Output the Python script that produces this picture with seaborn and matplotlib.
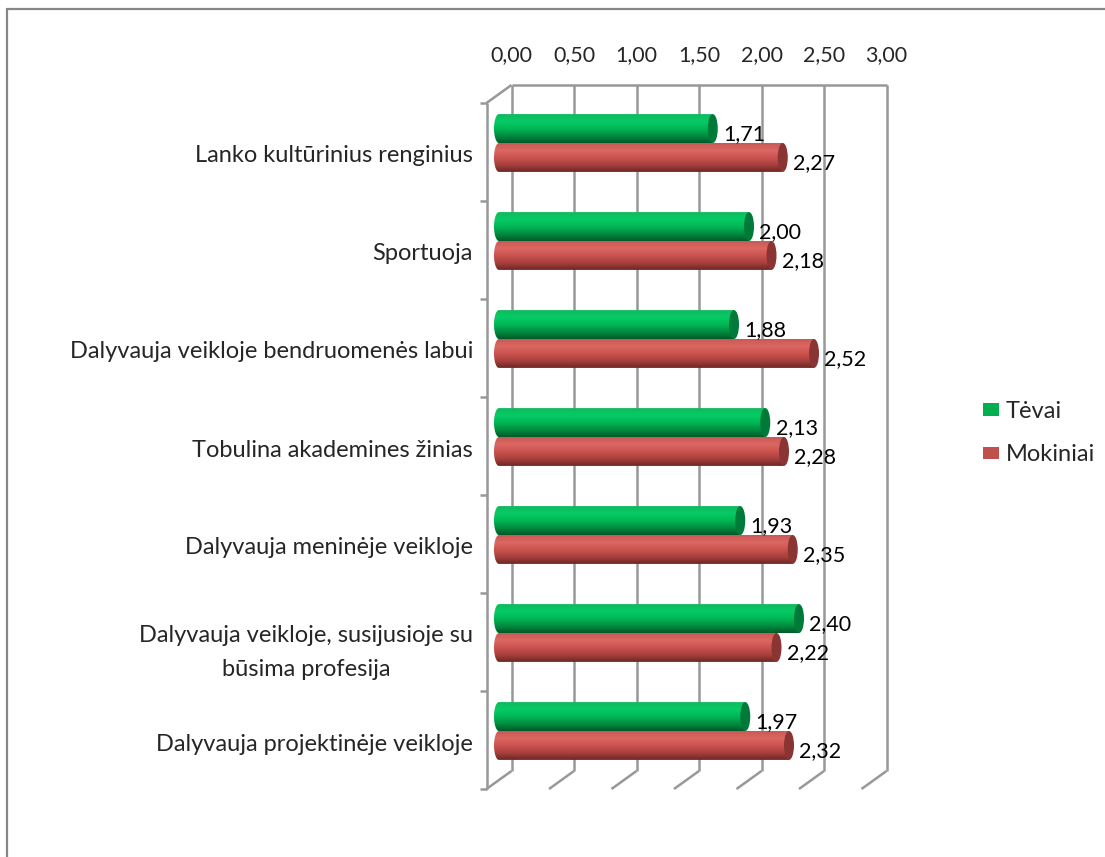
import numpy as np
import pandas as pd
import matplotlib
matplotlib.use("Agg")
import matplotlib.pyplot as plt
from matplotlib.colors import LinearSegmentedColormap
from matplotlib.patches import Ellipse, Patch
from matplotlib.path import Path
from matplotlib.lines import Line2D
from matplotlib.transforms import ScaledTranslation
import seaborn as sns

# ---- data -------------------------------------------------------------
categories = [
    "Lanko kultūrinius renginius",
    "Sportuoja",
    "Dalyvauja veikloje bendruomenės labui",
    "Tobulina akademines žinias",
    "Dalyvauja meninėje veikloje",
    "Dalyvauja veikloje, susijusioje su\nbūsima profesija",
    "Dalyvauja projektinėje veikloje",
]
tevai = [1.71, 2.00, 1.88, 2.13, 1.93, 2.40, 1.97]
mokiniai = [2.27, 2.18, 2.52, 2.28, 2.35, 2.22, 2.32]
series = ["Tėvai", "Mokiniai"]
x_ticks = [0.0, 0.5, 1.0, 1.5, 2.0, 2.5, 3.0]

# ---- style -------------------------------------------------------------
W, H, DPI = 1105, 857, 100
NUM_SIZE = 15.5
TEXT_SIZE = 17
GRID = "#989898"
flat_colors = ["#00b050", "#c0504d"]
cap_colors = ["#007a38", "#8a3533"]
grad_stops = [
    ["#10b85c", "#06cc66", "#00b655", "#008c40", "#005a28"],
    ["#c85855", "#dd6763", "#ca534f", "#a8403d", "#6c2725"],
]

sns.set_style("white")
plt.rcParams["font.family"] = ["Lato", "DejaVu Sans"]


def fmt(v):
    return f"{v:.2f}".replace(".", ",")


df = pd.DataFrame({
    "Veikla": categories * 2,
    "Grupė": [series[0]] * len(categories) + [series[1]] * len(categories),
    "Vidurkis": tevai + mokiniai,
})

fig = plt.figure(figsize=(W / DPI, H / DPI), dpi=DPI)
# axes covers the plane in which the cylinders sit (mid depth of the 3-D box)
ax = fig.add_axes([499 / W, 1 - 780 / H, 375 / W, 686 / H])

sns.barplot(data=df, x="Vidurkis", y="Veikla", hue="Grupė", order=categories,
            hue_order=series, orient="h", palette=flat_colors, saturation=1,
            width=0.59, errorbar=None, legend=False, ax=ax)

n = len(categories)
# depth of the box, in data units: back wall is shifted right/up, front left/down
DX, DY = 12.5 / 125, 9 / 98
CAP_RX = 5 / 125
XMIN, XMAX = x_ticks[0], x_ticks[-1]
YTOP, YBOT = -0.5, n - 0.5

line_kw = dict(color=GRID, lw=1.8, clip_on=False, solid_capstyle="butt")
# back wall gridlines
for xv in x_ticks:
    ax.plot([xv + DX, xv + DX], [YTOP - DY, YBOT - DY], zorder=1, **line_kw)
    # floor edges running from back wall to front
    ax.plot([xv + DX, xv - DX], [YBOT - DY, YBOT + DY], zorder=1, **line_kw)
# top edge of the back wall
ax.plot([XMIN + DX, XMAX + DX], [YTOP - DY, YTOP - DY], zorder=1, **line_kw)
# left wall: top edge and front vertical
ax.plot([XMIN + DX, XMIN - DX], [YTOP - DY, YTOP + DY], zorder=1, **line_kw)
ax.plot([XMIN - DX, XMIN - DX], [YTOP + DY, YBOT + DY], zorder=1, **line_kw)
# category separators on the left wall
for k in range(n + 1):
    yk = k - 0.5 + DY
    ax.plot([XMIN - DX - 0.05, XMIN - DX], [yk, yk], zorder=1, **line_kw)


def cylinder(x0, y0, w, h, cmap, cap_color):
    yc = y0 + h / 2
    t = np.linspace(1.5 * np.pi, 0.5 * np.pi, 60)
    ex = x0 + CAP_RX * np.cos(t)
    ey = yc - (h / 2) * np.sin(t)
    verts = [(x0 + w, y0), (x0 + w, y0 + h)] + list(zip(ex, ey)) + [(x0 + w, y0)]
    path = Path(verts, closed=True)
    grad = np.linspace(0, 1, 256).reshape(-1, 1)
    im = ax.imshow(grad, cmap=cmap, extent=(x0 - CAP_RX, x0 + w, y0 + h, y0),
                   origin="upper", aspect="auto", interpolation="bicubic", zorder=3)
    # let the rounded left end reach past the axes edge
    im.set_clip_box(fig.bbox)
    im.set_clip_path(path, ax.transData)
    ax.add_patch(Ellipse((x0 + w, yc), 2 * CAP_RX, h, facecolor=cap_color,
                         edgecolor="none", zorder=4, clip_on=False))


for i, container in enumerate(ax.containers):
    cmap = LinearSegmentedColormap.from_list(f"cyl{i}", grad_stops[i])
    for patch in container:
        cylinder(patch.get_x(), patch.get_y(), patch.get_width(), patch.get_height(),
                 cmap, cap_colors[i])
        patch.set_facecolor("none")
        patch.set_edgecolor("none")
    anns = ax.bar_label(container, labels=[fmt(v) for v in container.datavalues],
                        padding=8, fontsize=NUM_SIZE, color="black", zorder=5)
    for a in anns:
        a.xyann = (7.5, -4.3)

ax.set_xlim(XMIN, XMAX)
ax.set_ylim(YBOT, YTOP)
ax.set_xlabel("")
ax.set_ylabel("")
for s in ax.spines.values():
    s.set_visible(False)
ax.grid(False)

# value axis on top, labels aligned with the back wall
ax.xaxis.tick_top()
ax.set_xticks(x_ticks, labels=[fmt(v) for v in x_ticks])
ax.tick_params(axis="x", length=0, pad=14.5, labelsize=NUM_SIZE)
for lbl in ax.get_xticklabels():
    lbl.set_transform(lbl.get_transform() +
                      ScaledTranslation(12.5 / DPI, 9 / DPI, fig.dpi_scale_trans))

ax.set_yticks(range(n), labels=categories)
ax.tick_params(axis="y", length=0, pad=18.7, labelsize=TEXT_SIZE)
for lbl in ax.get_yticklabels():
    lbl.set_multialignment("center")
    lbl.set_linespacing(1.75)
    lbl.set_transform(lbl.get_transform() +
                      ScaledTranslation(0, -11 / DPI, fig.dpi_scale_trans))

handles = [Patch(facecolor=c, edgecolor="none") for c in flat_colors]
fig.legend(handles=handles, labels=series, loc="upper left",
           bbox_to_anchor=(983 / W, 1 - 401 / H), frameon=False, fontsize=TEXT_SIZE,
           handlelength=0.66, handleheight=0.45, handletextpad=0.3,
           labelspacing=0.95, borderpad=0, borderaxespad=0)

# chart area border (top and left edges)
fig.add_artist(Line2D([7 / W, 7 / W], [0, 1 - 9 / H], color="#878787", lw=1.6,
                      transform=fig.transFigure))
fig.add_artist(Line2D([7 / W, 1], [1 - 9 / H, 1 - 9 / H], color="#878787", lw=1.6,
                      transform=fig.transFigure))

fig.savefig("out.png", dpi=DPI, facecolor="white")
